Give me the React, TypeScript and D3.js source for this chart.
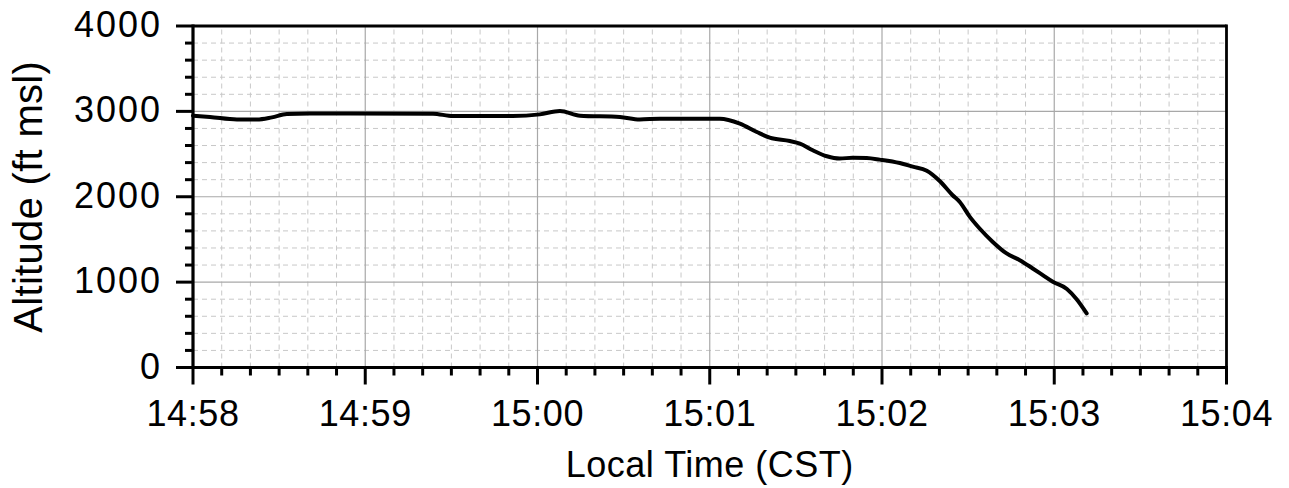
import React from "react";
import * as d3 from "d3";

// seconds after 14:58:00 (CST)
const timeSeconds = [0, 5.9, 15.3, 22.3, 27.5, 32.7, 40.7, 54.7, 83.6, 90.5, 111.4, 120.8, 127.8, 134.8, 148.7, 155.6, 162.6, 183.5, 190.5, 196.4, 200.9, 207.9, 211.4, 215.9, 220.8, 225.3, 229.8, 234.7, 239.2, 246.2, 250.7, 255.6, 260.1, 264.6, 267.1, 270.6, 274.0, 278.6, 283.4, 288.0, 292.5, 296.0, 299.5, 304.4, 307.8, 311.3];
const altitudeFt = [2950, 2935, 2905, 2905, 2930, 2968, 2975, 2975, 2973, 2945, 2945, 2965, 3005, 2950, 2935, 2905, 2915, 2914, 2856, 2758, 2692, 2653, 2622, 2544, 2474, 2447, 2458, 2454, 2435, 2395, 2352, 2305, 2185, 2018, 1939, 1764, 1628, 1471, 1336, 1257, 1160, 1082, 1004, 920, 800, 634];
const xTickLabels = ["14:58", "14:59", "15:00", "15:01", "15:02", "15:03", "15:04"];
const yTickValues = [0, 1000, 2000, 3000, 4000];
const xTitle = "Local Time (CST)";
const yTitle = "Altitude (ft msl)";

const W = 1289, H = 488;
const M = { left: 193, top: 26, right: 1289 - 1226.5, bottom: 488 - 367.5 };
const FONT = "'Liberation Sans', Arial, Helvetica, sans-serif";

const base = new Date(2000, 0, 1, 14, 58, 0);
const toDate = (s: number) => new Date(base.getTime() + s * 1000);

export default function App() {
  const x = d3.scaleTime().domain([toDate(0), toDate(360)]).range([M.left, W - M.right]);
  const y = d3.scaleLinear().domain([0, 4000]).range([H - M.bottom, M.top]);
  const data = timeSeconds.map((s, i) => ({ t: toDate(s), v: altitudeFt[i] }));
  const line = d3.line<{ t: Date; v: number }>().x((d) => x(d.t)).y((d) => y(d.v)).curve(d3.curveMonotoneX);

  const majorX = xTickLabels.map((_, i) => toDate(i * 60));
  const minorX = d3.range(0, 361, 10).filter((s) => s % 60 !== 0).map(toDate);
  const minorY = d3.range(0, 4001, 200).filter((v) => v % 1000 !== 0);
  const fmt = d3.timeFormat("%H:%M");
  const x0 = M.left, x1 = W - M.right, y0 = H - M.bottom, y1 = M.top;

  return (
    <svg width={W} height={H} style={{ position: "absolute", left: 0, top: 0, background: "#fff" }} fontFamily={FONT}>
      {/* minor grid */}
      {minorX.map((d, i) => (
        <line key={"mx" + i} x1={x(d)} x2={x(d)} y1={y0} y2={y1} stroke="#c8c8c8" strokeWidth={1} strokeDasharray="5,4" />
      ))}
      {minorY.map((v, i) => (
        <line key={"my" + i} x1={x0} x2={x1} y1={y(v)} y2={y(v)} stroke="#c8c8c8" strokeWidth={1} strokeDasharray="5,4" />
      ))}
      {/* major grid */}
      {majorX.map((d, i) => (
        <line key={"Mx" + i} x1={x(d)} x2={x(d)} y1={y0} y2={y1} stroke="#a8a8a8" strokeWidth={1.2} />
      ))}
      {yTickValues.map((v, i) => (
        <line key={"My" + i} x1={x0} x2={x1} y1={y(v)} y2={y(v)} stroke="#a8a8a8" strokeWidth={1.2} />
      ))}
      {/* data line */}
      <path d={line(data) || ""} fill="none" stroke="#000" strokeWidth={4} strokeLinejoin="round" strokeLinecap="round" />
      {/* frame */}
      <line x1={x0} x2={x1} y1={y1} y2={y1} stroke="#000" strokeWidth={2.8} />
      <line x1={x1} x2={x1} y1={y1 - 1.4} y2={y0} stroke="#000" strokeWidth={2.8} />
      <line x1={x0} x2={x1 + 1.4} y1={y0} y2={y0} stroke="#000" strokeWidth={3.2} />
      <line x1={x0} x2={x0} y1={y1 - 1.4} y2={y0} stroke="#000" strokeWidth={3.2} />
      {/* x ticks */}
      {minorX.map((d, i) => (
        <line key={"tmx" + i} x1={x(d)} x2={x(d)} y1={y0} y2={y0 + 8} stroke="#000" strokeWidth={3} />
      ))}
      {majorX.map((d, i) => (
        <line key={"tMx" + i} x1={x(d)} x2={x(d)} y1={y0} y2={y0 + 17} stroke="#000" strokeWidth={3} />
      ))}
      {/* y ticks */}
      {minorY.map((v, i) => (
        <line key={"tmy" + i} x1={x0 - 8} x2={x0} y1={y(v)} y2={y(v)} stroke="#000" strokeWidth={3} />
      ))}
      {yTickValues.map((v, i) => (
        <line key={"tMy" + i} x1={x0 - 17} x2={x0} y1={y(v)} y2={y(v)} stroke="#000" strokeWidth={3} />
      ))}
      {/* tick labels */}
      {majorX.map((d, i) => (
        <text key={"lx" + i} x={x(d)} y={y0 + 58.5} textAnchor="middle" fontSize={36} letterSpacing={0.6} fill="#000">
          {fmt(d)}
        </text>
      ))}
      {yTickValues.map((v, i) => (
        <text key={"ly" + i} x={x0 - 31} y={y(v) + 11} textAnchor="end" fontSize={36} letterSpacing={2} fill="#000">
          {String(v)}
        </text>
      ))}
      {/* titles */}
      <text x={(x0 + x1) / 2} y={477} textAnchor="middle" fontSize={36} letterSpacing={0.5} fill="#000">
        {xTitle}
      </text>
      <text transform={`translate(42, ${(y0 + y1) / 2}) rotate(-90)`} textAnchor="middle" fontSize={40} letterSpacing={0.3} fill="#000">
        {yTitle}
      </text>
    </svg>
  );
}
